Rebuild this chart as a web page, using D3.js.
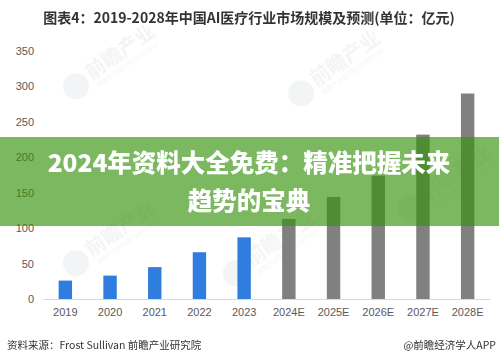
<!DOCTYPE html>
<html>
<head>
<meta charset="utf-8">
<script src="https://cdn.jsdelivr.net/npm/d3@7"></script>
<style>
	body { margin: 0; background: #fff; }
	svg { display: block; font-family: "Noto Sans CJK SC", "Noto Sans", sans-serif; }
</style>
</head>
<body>
<div id="chart-container"></div>
<script>
const years = ["2019", "2020", "2021", "2022", "2023", "2024E", "2025E", "2026E", "2027E", "2028E"];
const marketSize = [26, 33, 45, 66, 87, 113, 144, 174, 232, 290];
const isForecast = [false, false, false, false, false, true, true, true, true, true];
const yTicks = [0, 50, 100, 150, 200, 250, 300, 350];

const width = 499;
const height = 364;
const margin = { top: 51, right: 9, bottom: 65, left: 43 };

const svg = d3
	.select("#chart-container")
	.append("svg")
	.attr("width", width)
	.attr("height", height);

svg.append("rect").attr("width", width).attr("height", height).attr("fill", "#fff");

// watermark logos, very faint
const marks = [[95, 68], [320, 75], [95, 245], [430, 190], [255, 255]];
const wm = svg.append("g").attr("opacity", 0.5);
marks.forEach(([mx, my]) => {
	const g = wm.append("g").attr("transform", `translate(${mx},${my}) rotate(-35)`);
	g.append("circle").attr("cx", -26).attr("cy", 4).attr("r", 13).attr("fill", "#e6e9ec");
	g.append("text")
		.attr("x", -10)
		.attr("y", 8)
		.attr("font-size", 20)
		.attr("font-weight", "bold")
		.attr("fill", "#e6e9ec")
		.text("前瞻产业");
	g.append("text")
		.attr("x", -8)
		.attr("y", 18)
		.attr("font-size", 6)
		.attr("fill", "#e9ecee")
		.text("前瞻产业研究院 QIANZHAN");
});

// title
svg.append("text")
	.attr("x", 249)
	.attr("y", 23)
	.attr("text-anchor", "middle")
	.attr("font-size", 14)
	.attr("font-weight", "bold")
	.attr("fill", "#333")
	.text("图表4：2019-2028年中国AI医疗行业市场规模及预测(单位：亿元)");

const x = d3
	.scaleBand()
	.domain(years)
	.range([margin.left, width - margin.right])
	.paddingInner(0.7)
	.paddingOuter(0.35);

const y = d3
	.scaleLinear()
	.domain([0, 350])
	.range([height - margin.bottom, margin.top]);

const yAxis = svg
	.append("g")
	.attr("transform", `translate(${margin.left},0)`)
	.call(d3.axisLeft(y).tickValues(yTicks).tickSize(0).tickPadding(9));
yAxis.select(".domain").remove();
yAxis.selectAll("text").attr("font-size", 11).attr("fill", "#595959").attr("font-family", "Liberation Sans, Arial, sans-serif");

const xAxis = svg
	.append("g")
	.attr("transform", `translate(0,${height - margin.bottom})`)
	.call(d3.axisBottom(x).tickSize(0).tickPadding(9).tickSizeOuter(0));
xAxis.select(".domain").attr("stroke", "#d9d9d9");
xAxis.selectAll("text").attr("font-size", 11).attr("fill", "#595959").attr("font-family", "Liberation Sans, Arial, sans-serif");

const data = years.map((d, i) => ({ year: d, value: marketSize[i], forecast: isForecast[i] }));

svg.selectAll(".bar")
	.data(data)
	.enter()
	.append("rect")
	.attr("class", "bar")
	.attr("x", (d) => x(d.year))
	.attr("y", (d) => y(d.value))
	.attr("width", x.bandwidth())
	.attr("height", (d) => y(0) - y(d.value))
	.attr("fill", (d) => (d.forecast ? "#808080" : "#2f7ddf"));

// footer
svg.append("text")
	.attr("x", 7)
	.attr("y", 349)
	.attr("font-size", 10.5)
	.attr("fill", "#333")
	.text("资料来源：Frost Sullivan 前瞻产业研究院");

svg.append("text")
	.attr("x", 496)
	.attr("y", 349)
	.attr("text-anchor", "end")
	.attr("font-size", 10.5)
	.attr("fill", "#333")
	.text("@前瞻经济学人APP");

// green banner overlay
svg.append("rect")
	.attr("x", 0)
	.attr("y", 137)
	.attr("width", width)
	.attr("height", 89)
	.attr("fill", "rgb(52,146,10)")
	.attr("fill-opacity", 0.65);

const bannerLines = ["2024年资料大全免费：精准把握未来", "趋势的宝典"];
svg.selectAll(".banner-text")
	.data(bannerLines)
	.enter()
	.append("text")
	.attr("class", "banner-text")
	.attr("x", 249)
	.attr("y", (d, i) => 172 + i * 38)
	.attr("text-anchor", "middle")
	.attr("font-size", 24.5)
	.attr("font-weight", 900)
	.attr("fill", "#fff")
	.text((d) => d);
</script>
</body>
</html>
